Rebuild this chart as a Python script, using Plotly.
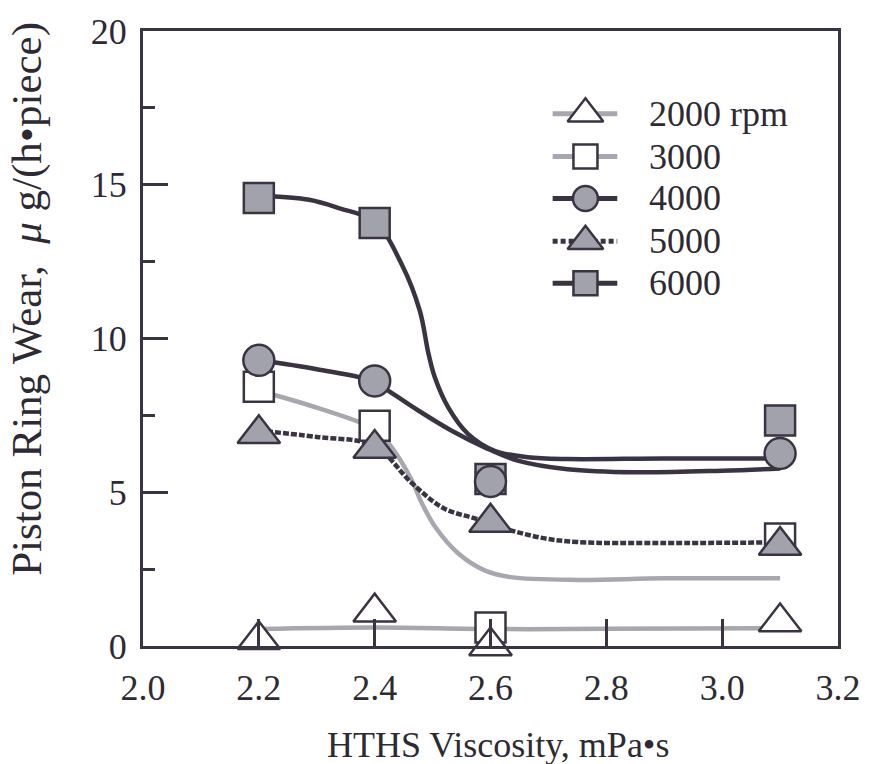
import plotly.graph_objects as go

# ---------------- data ----------------
series_names = ["2000 rpm", "3000", "4000", "5000", "6000"]

# measured points
pts_x = [2.2, 2.4, 2.6, 3.1]
y_2000 = [0.2, 1.1, 0.0, 0.78]
y_3000 = [8.43, 7.16, 0.6, 3.5]
y_4000 = [9.29, 8.62, 5.35, 6.26]
y_5000 = [6.9, 6.42, 4.02, 3.27]
y_6000 = [14.57, 13.76, 5.43, 7.33]

# fitted curves
cx_2000 = [2.2, 2.4, 2.6, 2.8, 3.1]
cy_2000 = [0.55, 0.6, 0.55, 0.56, 0.58]

cx_3000 = [2.2, 2.3, 2.4, 2.424, 2.464, 2.48, 2.505, 2.545, 2.59, 2.635, 2.75, 2.9, 3.1]
cy_3000 = [8.3, 7.75, 7.05, 6.6, 5.4, 4.7, 3.86, 3.0, 2.46, 2.24, 2.15, 2.2, 2.2]

cx_4000 = [2.2, 2.3, 2.4, 2.424, 2.476, 2.533, 2.59, 2.647, 2.733, 2.85, 3.0, 3.1]
cy_4000 = [9.3, 9.0, 8.6, 8.3, 7.65, 7.0, 6.46, 6.03, 5.75, 5.65, 5.7, 5.77]

cx_5000 = [2.2, 2.3, 2.4, 2.464, 2.52, 2.573, 2.635, 2.694, 2.75, 2.9, 3.1]
cy_5000 = [7.0, 6.8, 6.5, 5.3, 4.47, 4.15, 3.76, 3.5, 3.38, 3.35, 3.37]

cx_6000 = [2.2, 2.287, 2.338, 2.4, 2.447, 2.478, 2.493, 2.504, 2.527, 2.561, 2.607, 2.664, 2.733, 2.9, 3.1]
cy_6000 = [14.65, 14.51, 14.24, 13.8, 12.4, 10.9, 9.5, 8.73, 7.76, 6.9, 6.35, 6.14, 6.08, 6.1, 6.1]

x_ticks = [2.0, 2.2, 2.4, 2.6, 2.8, 3.0, 3.2]
y_ticks = [0, 5, 10, 15, 20]

# ---------------- style ----------------
DARK = "#3a3442"
GRAY = "#a7a7af"
FILL = "#a2a2ac"
FONT = "Liberation Serif"
TXT = "#2e2a33"

# plot area in pixels
W, H = 873, 764
L, R, T, B = 143, 842, 29, 646

fig = go.Figure()

curves = [
    (cx_2000, cy_2000, GRAY, "solid"),
    (cx_3000, cy_3000, GRAY, "solid"),
    (cx_5000, cy_5000, DARK, "6px,2px"),
    (cx_4000, cy_4000, DARK, "solid"),
    (cx_6000, cy_6000, DARK, "solid"),
]
for cx, cy, col, dash in curves:
    fig.add_trace(go.Scatter(x=cx, y=cy, mode="lines", showlegend=False,
                             line=dict(color=col, width=4.5, dash=dash, shape="spline", smoothing=1.0),
                             hoverinfo="skip"))

mk = {
    "2000 rpm": dict(symbol="triangle-up", color="white", size=37),
    "3000": dict(symbol="square", color="white", size=30),
    "4000": dict(symbol="circle", color=FILL, size=31),
    "5000": dict(symbol="triangle-up", color=FILL, size=37),
    "6000": dict(symbol="square", color=FILL, size=30),
}
pts = {"2000 rpm": y_2000, "3000": y_3000, "4000": y_4000, "5000": y_5000, "6000": y_6000}
for name in ["3000", "6000", "4000", "5000", "2000 rpm"]:
    m = mk[name]
    fig.add_trace(go.Scatter(x=pts_x, y=pts[name], mode="markers", showlegend=False, cliponaxis=False,
                             marker=dict(symbol=m["symbol"], size=m["size"], color=m["color"],
                                         line=dict(color=DARK, width=2.5))))

# ---------------- manual legend (overlay axes in pixel units) ----------------
leg_rows = [112, 155, 197, 240, 282]
leg_line = {"2000 rpm": (GRAY, "solid"), "3000": (GRAY, "solid"), "4000": (DARK, "solid"),
            "5000": (DARK, "5px,3px"), "6000": (DARK, "solid")}
leg_size = {"2000 rpm": 31, "3000": 24, "4000": 25, "5000": 31, "6000": 24}
annotations = []
for name, ry in zip(series_names, leg_rows):
    col, dash = leg_line[name]
    fig.add_trace(go.Scatter(x=[555, 620], y=[ry, ry], xaxis="x2", yaxis="y2", mode="lines",
                             showlegend=False, line=dict(color=col, width=5, dash=dash), hoverinfo="skip"))
    m = mk[name]
    fig.add_trace(go.Scatter(x=[588], y=[ry], xaxis="x2", yaxis="y2", mode="markers", showlegend=False,
                             marker=dict(symbol=m["symbol"], size=leg_size[name], color=m["color"],
                                         line=dict(color=DARK, width=2.5)), hoverinfo="skip"))
    annotations.append(dict(x=650, y=ry, xref="x2", yref="y2", text=name, showarrow=False,
                            xanchor="left", yanchor="middle", font=dict(family=FONT, size=36, color=TXT)))

# axis titles as annotations
def px_to_paper(px, py):
    return (px - L) / (R - L), (B - py) / (B - T)

xt = px_to_paper(500, 745)
annotations.append(dict(x=xt[0], y=xt[1], xref="paper", yref="paper", showarrow=False,
                        text="HTHS Viscosity, mPa•s", xanchor="center", yanchor="middle",
                        font=dict(family=FONT, size=36, color=TXT)))
yt = px_to_paper(26, 298)
annotations.append(dict(x=yt[0], y=yt[1], xref="paper", yref="paper", showarrow=False, textangle=-90,
                        text="Piston Ring Wear,  <i>μ</i> g/(h•piece)", xanchor="center", yanchor="middle",
                        font=dict(family=FONT, size=43, color=TXT)))

fig.update_layout(
    width=W, height=H,
    margin=dict(l=L, r=W - R, t=T, b=H - B, pad=0),
    paper_bgcolor="white", plot_bgcolor="white",
    font=dict(family=FONT, size=36, color=TXT),
    xaxis=dict(range=[2.0, 3.2], tickvals=x_ticks, ticktext=[f"{v:.1f}" for v in x_ticks],
               ticks="inside", ticklen=27, tickwidth=3, tickcolor=DARK,
               showline=True, linewidth=3, linecolor=DARK, mirror=True,
               showgrid=False, zeroline=False, ticklabelstandoff=8),
    yaxis=dict(range=[0, 20], tickvals=y_ticks,
               ticks="inside", ticklen=25, tickwidth=3, tickcolor=DARK,
               minor=dict(ticks="inside", ticklen=12, tickwidth=3, tickcolor=DARK, dtick=2.5, showgrid=False),
               showline=True, linewidth=3, linecolor=DARK, mirror=True,
               showgrid=False, zeroline=False, ticklabelstandoff=6),
    xaxis2=dict(overlaying="x", range=[L, R], visible=False, fixedrange=True),
    yaxis2=dict(overlaying="y", range=[B, T], visible=False, fixedrange=True),
    annotations=annotations,
)

fig.write_html("out.html", config={"displayModeBar": False},
               post_script="document.body.style.margin='0px';document.body.style.overflow='hidden';")
